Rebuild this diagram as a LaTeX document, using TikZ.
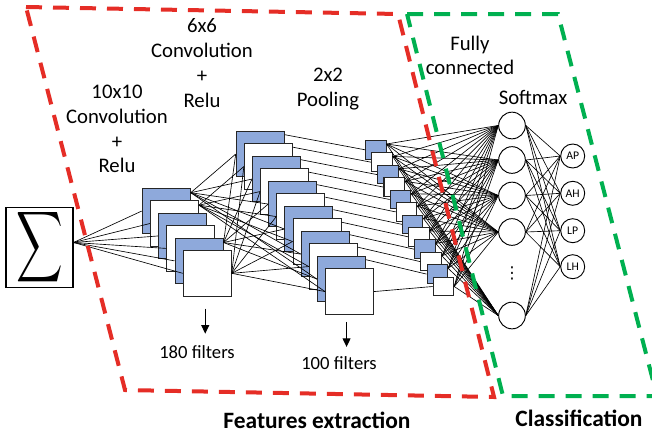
\documentclass[tikz,border=0pt]{standalone}
\usepackage{fontspec}
\setmainfont{Carlito}
\newfontfamily\symfont{DejaVu Sans}
\usetikzlibrary{calc,arrows.meta}
\definecolor{mapblue}{RGB}{142,169,219}
\definecolor{boxred}{RGB}{229,45,38}
\definecolor{boxgreen}{RGB}{0,176,80}

\begin{document}
\begin{tikzpicture}[x=0.3mm, y=-0.3mm,
    bigmap/.style={shape=rectangle, draw=black!85, line width=0.9pt, inner sep=0pt,
      minimum width=14.4mm, minimum height=13.7mm, anchor=north west},
    smallmap/.style={shape=rectangle, draw=black!85, line width=0.9pt, inner sep=0pt,
      minimum width=6.15mm, minimum height=5.55mm, anchor=north west},
    neuron/.style={shape=circle, draw, line width=0.8pt, fill=white, inner sep=0pt, minimum size=8mm},
    outneuron/.style={shape=circle, draw, line width=0.8pt, fill=white, inner sep=0pt,
      minimum size=7.2mm, font=\fontsize{10}{10}\selectfont},
    wire/.style={line width=0.55pt},
    arr/.style={line width=0.9pt, -{Triangle[length=2.6mm, width=2.4mm]}},
    label/.style={font=\fontsize{17.7}{21.1}\selectfont, align=center},
    count/.style={font=\fontsize{15.9}{18}\selectfont},
    title/.style={font=\bfseries\fontsize{20}{24}\selectfont},
    region/.style={line width=1.2mm, dash pattern=on 4.8mm off 3.3mm},
  ]
  \useasboundingbox (0,0) rectangle (652,436);
  \clip (0,0) rectangle (652,436);

  \node[draw, line width=0.9pt, inner sep=0pt, minimum width=20.1mm, minimum height=20.7mm] (sig)
    at (39.5,247.5) {\resizebox{14mm}{15.6mm}{$\displaystyle\sum$}};
  \coordinate (sig-o) at ($(sig.east)+(0,-5)$);

  % feature maps, front ones last
  \foreach \i in {1,...,6} {
    \ifodd\i \def\mapfill{mapblue}\else \def\mapfill{white}\fi
    \node[bigmap, fill=\mapfill] (c1-\i) at ({141.7+8.2*(\i-1)}, {187.7+12.45*(\i-1)}) {};
  }
  \foreach \i in {1,...,12} {
    \ifodd\i \def\mapfill{mapblue}\else \def\mapfill{white}\fi
    \node[bigmap, fill=\mapfill] (c2-\i) at ({235.7+8.12*(\i-1)}, {130.7+12.5*(\i-1)}) {};
  }
  \foreach \i in {1,...,12} {
    \ifodd\i \def\mapfill{mapblue}\else \def\mapfill{white}\fi
    \node[smallmap, fill=\mapfill] (p-\i) at ({365+6.15*(\i-1)}, {140+12.43*(\i-1)}) {};
  }

  \foreach \i in {1,...,5} \coordinate (c1-\i-o) at ($(c1-\i.north east)+(0,5)$);
  \coordinate (c1-6-o) at (c1-6.east);
  \foreach \i in {1,...,11} {
    \coordinate (c2-\i-o) at ($(c2-\i.north east)+(0,4)$);
    \coordinate (p-\i-o) at ($(p-\i.north east)+(0,4)$);
  }
  \coordinate (c2-12-o) at (c2-12.east);
  \coordinate (p-12-o) at (p-12.east);

  \node[neuron] (fc-1) at (512,125.5) {};
  \node[neuron] (fc-2) at (512,160) {};
  \node[neuron] (fc-3) at (512,195.5) {};
  \node[neuron] (fc-4) at (512,232) {};
  \node[neuron] (fc-5) at (512,315.5) {};
  \node[font=\symfont\fontsize{14}{14}\selectfont] (dots) at (512,273) {⋮};

  \node[outneuron] (ap) at (572.7,156) {AP};
  \node[outneuron] (ah) at (572.7,193.3) {AH};
  \node[outneuron] (lp) at (572.7,230.7) {LP};
  \node[outneuron] (lh) at (572.7,266.7) {LH};

  \foreach \i in {1,...,6} \draw[wire] (sig-o) -- (c1-\i.west);
  \foreach \i/\a/\b in {1/1/3,2/2/4,5/1/3,6/2/4}
    \foreach \j in {\a,\b,...,12}
      \draw[wire] (c1-\i-o) -- (c2-\j.west);
  \foreach \k in {1,...,12} \draw[wire] (c2-\k-o) -- (p-\k.west);
  \foreach \k in {1,...,12}
    \foreach \n in {1,...,5}
      \draw[wire] (p-\k-o) -- (fc-\n.west);
  \foreach \n in {1,...,5}
    \foreach \o in {ap,ah,lp,lh}
      \draw[wire] (fc-\n.east) -- (\o.west);

  \node[label] (conv1txt) at (117,129) {10x10\\Convolution\\+\\Relu};
  \node[label] (conv2txt) at (202,63) {6x6\\Convolution\\+\\Relu};
  \node[label] (pooltxt) at (328,89) {2x2\\Pooling};
  \node[label] (fctxt) at (470,55.5) {Fully\\connected};
  \node[label] (smtxt) at (533,97) {Softmax};

  \node[count] (f180) at (197,352) {180 filters};
  \node[count] (f100) at (339,363) {100 filters};
  \draw[arr] (c1-6.south) ++(-2,12) -- ++(0,25);
  \draw[arr] (c2-12.south) ++(-3,7) -- ++(0,25);

  \draw[region, boxred] (26,7) -- (398,14) -- (494,397) -- (125,390) -- cycle;
  \draw[region, boxgreen] (407,14) -- (558,14) -- (657,396) -- (503,396) -- cycle;

  \node[title] (fe) at (317,420) {Features extraction};
  \node[title] (cl) at (579,418) {Classification};
\end{tikzpicture}
\end{document}
